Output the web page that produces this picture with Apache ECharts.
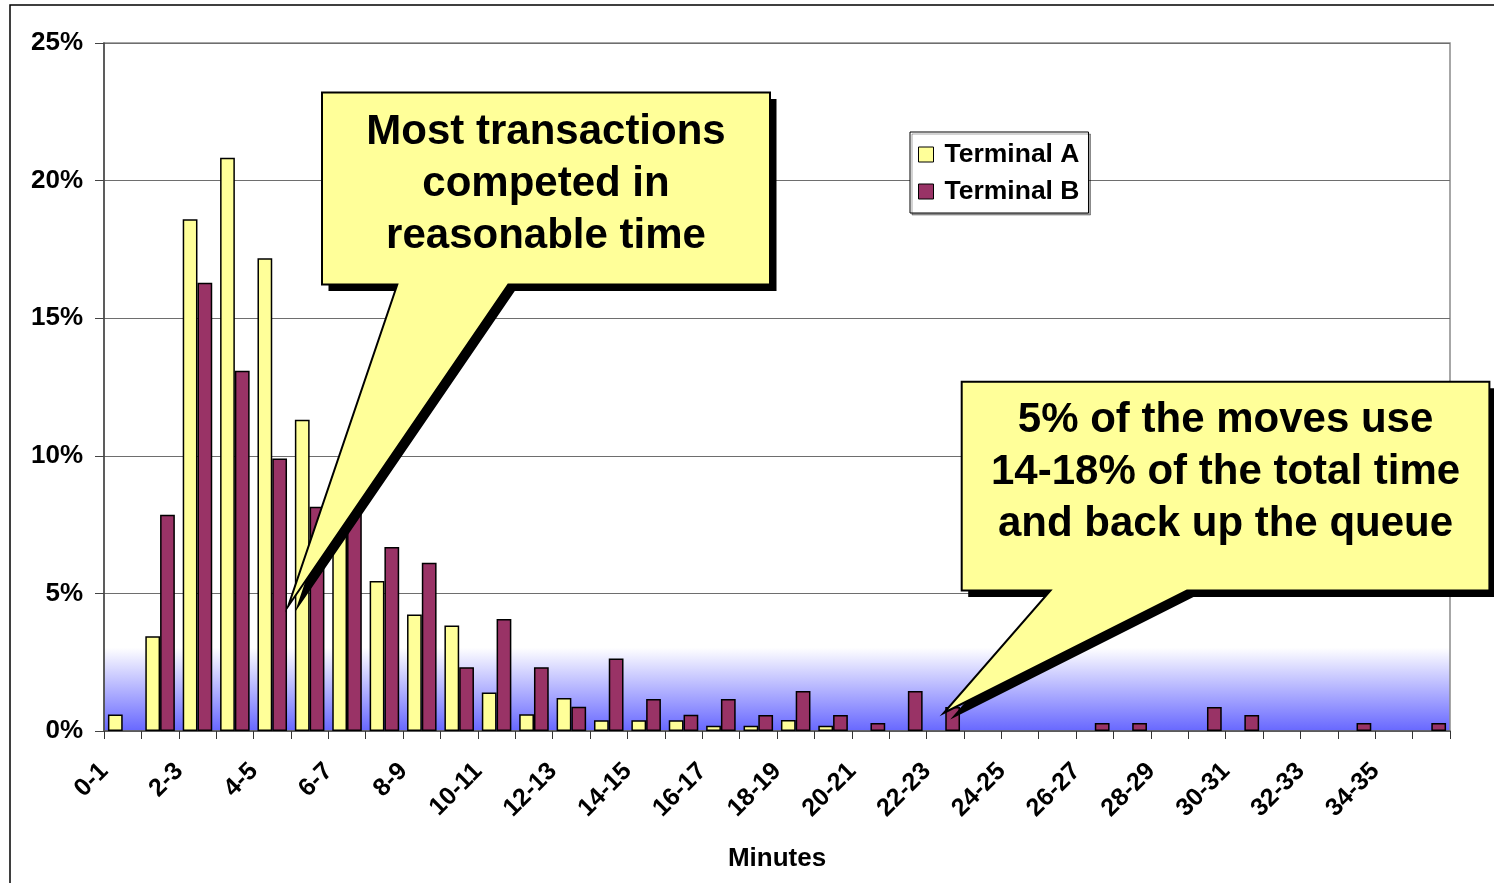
<!DOCTYPE html>
<html>
<head>
<meta charset="utf-8">
<title>Transaction time distribution</title>
<script src="https://cdn.jsdelivr.net/npm/echarts@6/dist/echarts.min.js"></script>
<style>
  html, body { margin: 0; padding: 0; background: #fff; }
  #chart { width: 1494px; height: 883px; }
</style>
</head>
<body>
<div id="chart"></div>
<script>
// Minute buckets
const categories = [
  '0-1', '1-2', '2-3', '3-4', '4-5', '5-6', '6-7', '7-8', '8-9', '9-10',
  '10-11', '11-12', '12-13', '13-14', '14-15', '15-16', '16-17', '17-18', '18-19', '19-20',
  '20-21', '21-22', '22-23', '23-24', '24-25', '25-26', '26-27', '27-28', '28-29', '29-30',
  '30-31', '31-32', '32-33', '33-34', '34-35', '35-36'
];

// Share of transactions per bucket, in percent
const terminalA = [
  0.6, 3.44, 18.6, 20.83, 17.18, 11.31, 9.2, 5.45, 4.23, 3.83,
  1.4, 0.61, 1.2, 0.39, 0.39, 0.39, 0.19, 0.19, 0.4, 0.19,
  0, 0, 0, 0, 0, 0, 0, 0, 0, 0,
  0, 0, 0, 0, 0, 0
];
const terminalB = [
  0, 7.86, 16.29, 13.09, 9.9, 8.15, 8.07, 6.69, 6.11, 2.32,
  4.07, 2.32, 0.88, 2.63, 1.16, 0.59, 1.16, 0.58, 1.45, 0.58,
  0.29, 1.45, 0.87, 0, 0, 0, 0.29, 0.29, 0, 0.87,
  0.58, 0, 0, 0.29, 0, 0.29
];

const seriesNames = ['Terminal A', 'Terminal B'];
const yTicks = { min: 0, max: 25, interval: 5 };

const calloutLeft = ['Most transactions', 'competed in', 'reasonable time'];
const calloutRight = ['5% of the moves use', '14-18% of the total time', 'and back up the queue'];

const FONT = "'Liberation Sans', Arial, Helvetica, sans-serif";

// empty buckets draw no bar
const toBars = arr => arr.map(v => (v === 0 ? null : v));

// speech-bubble annotation: box + pointer + offset black shadow + text
function callout(box, base, tip, lines, textY) {
  const pts = [
    [box.x0, box.y0], [box.x1, box.y0], [box.x1, box.y1],
    [base[1], box.y1], tip, [base[0], box.y1], [box.x0, box.y1]
  ];
  const sh = 6.5;
  return [
    {
      type: 'polygon', z: 100,
      shape: { points: pts.map(p => [p[0] + sh, p[1] + sh]) },
      style: { fill: '#000' }
    },
    {
      type: 'polygon', z: 101,
      shape: { points: pts },
      style: { fill: '#ffff99', stroke: '#000', lineWidth: 2, lineJoin: 'miter' }
    },
    {
      type: 'text', z: 102,
      x: (box.x0 + box.x1) / 2, y: textY,
      style: {
        text: lines.join('\n'),
        fontFamily: FONT, fontWeight: 'bold', fontSize: 42, lineHeight: 52,
        fill: '#000', align: 'center', verticalAlign: 'middle'
      }
    }
  ];
}

const chart = echarts.init(document.getElementById('chart'), null, { renderer: 'canvas' });

const option = {
  animation: false,
  backgroundColor: '#fff',
  textStyle: { fontFamily: FONT },
  grid: {
    left: 104, right: 44, top: 43, bottom: 152,
    outerBoundsMode: 'none',
    show: true,
    borderColor: '#8a8a8a', borderWidth: 1.5,
    backgroundColor: {
      type: 'linear', x: 0, y: 0, x2: 0, y2: 1,
      colorStops: [
        { offset: 0, color: '#ffffff' },
        { offset: 0.878, color: '#ffffff' },
        { offset: 1, color: '#6666ff' }
      ]
    }
  },
  legend: {
    orient: 'vertical',
    left: 910, top: 132,
    data: seriesNames,
    icon: 'rect',
    itemWidth: 15, itemHeight: 15, itemGap: 10,
    padding: [9, 9, 8, 8],
    backgroundColor: '#fff',
    borderColor: '#000', borderWidth: 1,
    shadowColor: 'rgba(0,0,0,0.35)', shadowOffsetX: 2, shadowOffsetY: 2, shadowBlur: 0,
    itemStyle: { borderColor: '#000', borderWidth: 1 },
    textStyle: {
      fontFamily: FONT, fontWeight: 'bold', fontSize: 26.5, color: '#000',
      padding: [0, 0, 0, 6]
    }
  },
  xAxis: {
    type: 'category',
    data: categories,
    name: 'Minutes',
    nameLocation: 'middle',
    nameGap: 115,
    nameTextStyle: { fontFamily: FONT, fontWeight: 'bold', fontSize: 26, color: '#000' },
    axisLine: { lineStyle: { color: '#555', width: 1.5 } },
    axisTick: { show: true, interval: 0, length: 8, lineStyle: { color: '#333', width: 1 } },
    axisLabel: {
      interval: 1,
      rotate: 45,
      margin: 18,
      padding: [0, 26, 0, 0],
      fontFamily: FONT, fontWeight: 'bold', fontSize: 25, color: '#000'
    },
    splitLine: { show: false }
  },
  yAxis: {
    type: 'value',
    min: yTicks.min, max: yTicks.max, interval: yTicks.interval,
    axisLine: { show: true, lineStyle: { color: '#444', width: 1.5 } },
    axisTick: { show: true, length: 9, lineStyle: { color: '#444', width: 1 } },
    axisLabel: {
      formatter: '{value}%',
      margin: 21,
      fontFamily: FONT, fontWeight: 'bold', fontSize: 26, color: '#000'
    },
    splitLine: { show: true, lineStyle: { color: '#6e6e6e', width: 1.2 } }
  },
  series: [
    {
      name: seriesNames[0],
      type: 'bar',
      data: toBars(terminalA),
      barGap: '0%',
      barCategoryGap: '21%',
      itemStyle: { color: '#ffff99', borderColor: '#000', borderWidth: 1.5 }
    },
    {
      name: seriesNames[1],
      type: 'bar',
      data: toBars(terminalB),
      barGap: '0%',
      barCategoryGap: '21%',
      itemStyle: { color: '#993366', borderColor: '#000', borderWidth: 1.5 }
    }
  ],
  graphic: [
    {
      type: 'rect', z: 0, silent: true,
      shape: { x: 10, y: 5, width: 1700, height: 1000 },
      style: { fill: 'none', stroke: '#000', lineWidth: 1.5 }
    },
    ...callout({ x0: 322, y0: 92.5, x1: 770, y1: 284.5 }, [397.3, 508.3], [288.3, 606], calloutLeft, 184),
    ...callout({ x0: 961.7, y0: 381.7, x1: 1489.4, y1: 590.5 }, [1050.5, 1187], [943.7, 713], calloutRight, 472)
  ]
};

chart.setOption(option);
</script>
</body>
</html>
